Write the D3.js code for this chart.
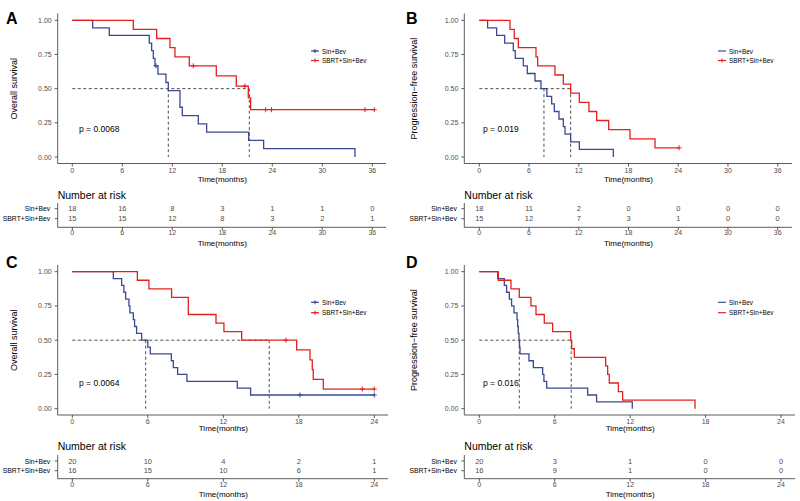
<!DOCTYPE html>
<html>
<head>
<meta charset="utf-8">
<script src="https://cdn.jsdelivr.net/npm/d3@7"></script>
<style>
  body { margin: 0; background: #fff; }
  text { font-family: "Liberation Sans", Arial, sans-serif; }
</style>
</head>
<body>
<div id="chart"></div>
<script>
const svgWidth = 800;
const svgHeight = 501;
const blue = "#3B4992";
const red = "#E3211C";
const axisColor = "#333333";
const tickColor = "#4D4D4D";

const groups = ["Sin+Bev", "SBRT+Sin+Bev"];
const yTicks = [0, 0.25, 0.5, 0.75, 1];
const ticks36 = [0, 6, 12, 18, 24, 30, 36];
const ticks24 = [0, 6, 12, 18, 24];

// Panel A - overall survival, cohort 1
const aSinTimes = [0, 2.44, 4.44, 9.24, 9.52, 9.72, 9.92, 10.28, 11.24, 11.52, 12.92, 13.2, 15.12, 16.12, 21.16, 22.96, 33.92];
const aSinSurv = [1, 0.944, 0.889, 0.833, 0.778, 0.722, 0.667, 0.606, 0.545, 0.485, 0.364, 0.303, 0.242, 0.182, 0.121, 0.061, 0];
const aSinCensor = [[10.04, 0.667]];
const aSbrtTimes = [0, 7.32, 10.12, 11.72, 12.32, 14.04, 17.28, 19.68, 21.12, 21.4];
const aSbrtSurv = [1, 0.933, 0.867, 0.8, 0.733, 0.667, 0.593, 0.519, 0.432, 0.346];
const aSbrtCensor = [[14.52, 0.667], [20.72, 0.519], [23.2, 0.346], [23.9, 0.346], [35.12, 0.346], [36.24, 0.346]];
const aMedians = [11.52, 21.24];
const aRisk = [[18, 16, 8, 3, 1, 1, 0], [15, 15, 12, 8, 3, 2, 1]];

// Panel B - progression-free survival, cohort 1
const bSinTimes = [0, 1.0, 2.09, 3.06, 4.1, 4.34, 5.31, 5.79, 6.72, 7.44, 8.15, 8.73, 9.05, 9.61, 10.14, 10.34, 11.02, 12.07, 16.17];
const bSinSurv = [1, 0.944, 0.889, 0.833, 0.778, 0.722, 0.667, 0.611, 0.556, 0.5, 0.444, 0.389, 0.333, 0.278, 0.222, 0.167, 0.111, 0.056, 0];
const bSinCensor = [];
const bSbrtTimes = [0, 3.7, 4.22, 4.71, 6.84, 7.04, 9.13, 10.14, 11.02, 12.07, 13.23, 14.16, 15.61, 18.18, 21.2];
const bSbrtSurv = [1, 0.933, 0.867, 0.8, 0.733, 0.667, 0.6, 0.533, 0.467, 0.4, 0.333, 0.267, 0.2, 0.133, 0.067];
const bSbrtCensor = [[24.1, 0.067]];
const bMedians = [7.8, 11.02];
const bRisk = [[18, 11, 2, 0, 0, 0, 0], [15, 12, 7, 3, 1, 0, 0]];

// Panel C - overall survival, cohort 2
const cSinTimes = [0, 3.26, 3.92, 4.1, 4.24, 4.5, 4.58, 4.85, 4.95, 5.11, 5.51, 6.0, 6.2, 7.87, 8.03, 8.37, 9.11, 13.11, 14.17];
const cSinSurv = [1, 0.95, 0.9, 0.85, 0.8, 0.75, 0.7, 0.65, 0.6, 0.55, 0.5, 0.45, 0.4, 0.35, 0.3, 0.25, 0.2, 0.15, 0.1];
const cSinCensor = [[18.09, 0.1], [24, 0.1]];
const cSbrtTimes = [0, 5.17, 6.09, 7.89, 9.22, 11.42, 12.05, 13.46, 17.83, 18.89, 19.07, 19.15, 19.95];
const cSbrtSurv = [1, 0.9375, 0.875, 0.8125, 0.6875, 0.625, 0.5625, 0.5, 0.429, 0.357, 0.286, 0.214, 0.143];
const cSbrtCensor = [[16.98, 0.5], [23.05, 0.143], [24, 0.143]];
const cMedians = [5.83, 15.65];
const cRisk = [[20, 10, 4, 2, 1], [16, 15, 10, 6, 1]];

// Panel D - progression-free survival, cohort 2
const dSinTimes = [0, 1.46, 1.99, 2.17, 2.39, 2.57, 2.76, 3.0, 3.05, 3.1, 3.16, 3.2, 3.24, 3.95, 4.3, 5.04, 5.14, 5.36, 8.62, 9.33, 12.17];
const dSinSurv = [1, 0.95, 0.9, 0.85, 0.8, 0.75, 0.7, 0.65, 0.6, 0.55, 0.5, 0.45, 0.4, 0.35, 0.3, 0.25, 0.2, 0.15, 0.1, 0.05, 0];
const dSinCensor = [];
const dSbrtTimes = [0, 1.51, 2.52, 3.18, 4.11, 4.51, 5.17, 5.83, 7.27, 7.35, 7.56, 10.05, 10.21, 10.34, 11.06, 11.4, 17.16];
const dSbrtSurv = [1, 0.9375, 0.875, 0.8125, 0.75, 0.6875, 0.625, 0.5625, 0.5, 0.4375, 0.375, 0.3125, 0.25, 0.1875, 0.125, 0.0625, 0];
const dSbrtCensor = [];
const dMedians = [3.18, 7.31];
const dRisk = [[20, 3, 1, 0, 0], [16, 9, 1, 0, 0]];

const panels = [
  { letter: "A", yTitle: "Overall survival", pText: "p = 0.0068", ticks: ticks36, medians: aMedians, risk: aRisk,
    curves: [
      { times: aSinTimes, surv: aSinSurv, censor: aSinCensor, color: blue },
      { times: aSbrtTimes, surv: aSbrtSurv, censor: aSbrtCensor, color: red }] },
  { letter: "B", yTitle: "Progression\u2212free survival", pText: "p = 0.019", ticks: ticks36, medians: bMedians, risk: bRisk,
    curves: [
      { times: bSinTimes, surv: bSinSurv, censor: bSinCensor, color: blue },
      { times: bSbrtTimes, surv: bSbrtSurv, censor: bSbrtCensor, color: red }] },
  { letter: "C", yTitle: "Overall survival", pText: "p = 0.0064", ticks: ticks24, medians: cMedians, risk: cRisk,
    curves: [
      { times: cSinTimes, surv: cSinSurv, censor: cSinCensor, color: blue },
      { times: cSbrtTimes, surv: cSbrtSurv, censor: cSbrtCensor, color: red }] },
  { letter: "D", yTitle: "Progression\u2212free survival", pText: "p = 0.016", ticks: ticks24, medians: dMedians, risk: dRisk,
    curves: [
      { times: dSinTimes, surv: dSinSurv, censor: dSinCensor, color: blue },
      { times: dSbrtTimes, surv: dSbrtSurv, censor: dSbrtCensor, color: red }] }
];

// pixel layout of each panel (plot + risk table)
const layouts = [
  { ox: 0, axisX: 57.7, xRange: [72.3, 372.3], axisEnd: 386, row: 0 },
  { ox: 400, axisX: 464.3, xRange: [479.3, 777.7], axisEnd: 792, row: 0 },
  { ox: 0, axisX: 57.7, xRange: [72.3, 374.3], axisEnd: 388, row: 1 },
  { ox: 400, axisX: 464.3, xRange: [479.3, 781], axisEnd: 795, row: 1 }
];
const rowLayouts = [
  { letterY: 24, yRange: [157, 20.3], axisTop: 13.5, xAxisY: 163.5, xTickY: 172.5, xTitleY: 181.5,
    legendY: [51, 60.5], pY: 132, nRiskY: 198.5, riskY: [208.7, 218.7], riskTop: 203, riskAxisY: 227.3,
    riskTickY: 235.3, riskTitleY: 245.5 },
  { letterY: 268, yRange: [408.7, 271.7], axisTop: 265, xAxisY: 415, xTickY: 424, xTitleY: 431,
    legendY: [302.3, 312.7], pY: 385.5, nRiskY: 449.5, riskY: [461, 470.7], riskTop: 455, riskAxisY: 478.7,
    riskTickY: 486.7, riskTitleY: 497 }
];

// condensed-looking label (group names use a narrow face in the original)
function narrowText(g, x, y, label, size, anchor = "start") {
  g.append("text")
    .attr("transform", `translate(${x},${y}) scale(0.85,1)`)
    .attr("text-anchor", anchor)
    .style("font-size", `${size}px`)
    .text(label);
}

function drawCross(g, cx, cy, color, size = 2.5) {
  g.append("path")
    .attr("d", `M${cx - size},${cy}H${cx + size}M${cx},${cy - size}V${cy + size}`)
    .attr("stroke", color)
    .attr("stroke-width", 1);
}

function drawPanel(svg, panel, lay) {
  let row = rowLayouts[lay.row];
  let maxT = panel.ticks[panel.ticks.length - 1];
  let x = d3.scaleLinear().domain([0, maxT]).range(lay.xRange);
  let y = d3.scaleLinear().domain([0, 1]).range(row.yRange);
  let g = svg.append("g");

  // Panel letter
  g.append("text")
    .attr("x", lay.ox + 6)
    .attr("y", row.letterY)
    .style("font-size", "16px")
    .style("font-weight", "bold")
    .text(panel.letter);

  // Y axis
  g.append("line")
    .attr("x1", lay.axisX).attr("x2", lay.axisX)
    .attr("y1", row.axisTop).attr("y2", row.xAxisY)
    .attr("stroke", axisColor).attr("stroke-width", 0.8);
  yTicks.forEach(v => {
    g.append("line")
      .attr("x1", lay.axisX - 3).attr("x2", lay.axisX)
      .attr("y1", y(v)).attr("y2", y(v))
      .attr("stroke", axisColor).attr("stroke-width", 0.8);
    g.append("text")
      .attr("x", lay.axisX - 6)
      .attr("y", y(v) + 2.5)
      .attr("text-anchor", "end")
      .attr("fill", tickColor)
      .style("font-size", "7px")
      .text(d3.format(".2f")(v));
  });
  let yMid = (row.yRange[0] + row.yRange[1]) / 2;
  g.append("text")
    .attr("transform", `translate(${lay.ox + 17},${yMid}) rotate(-90)`)
    .attr("text-anchor", "middle")
    .style("font-size", "9px")
    .text(panel.yTitle);

  // X axis
  g.append("line")
    .attr("x1", lay.axisX).attr("x2", lay.axisEnd)
    .attr("y1", row.xAxisY).attr("y2", row.xAxisY)
    .attr("stroke", axisColor).attr("stroke-width", 0.8);
  panel.ticks.forEach(t => {
    g.append("line")
      .attr("x1", x(t)).attr("x2", x(t))
      .attr("y1", row.xAxisY).attr("y2", row.xAxisY + 3)
      .attr("stroke", axisColor).attr("stroke-width", 0.8);
    g.append("text")
      .attr("x", x(t)).attr("y", row.xTickY)
      .attr("text-anchor", "middle")
      .attr("fill", tickColor)
      .style("font-size", "7px")
      .text(t);
  });
  g.append("text")
    .attr("x", (x(0) + x(maxT)) / 2).attr("y", row.xTitleY)
    .attr("text-anchor", "middle")
    .style("font-size", "8px")
    .text("Time(months)");

  // Median dashed lines
  let dash = g.append("g")
    .attr("stroke", "#222")
    .attr("stroke-width", 0.8)
    .attr("stroke-dasharray", "3,2.5")
    .attr("fill", "none");
  dash.append("line")
    .attr("x1", x(0)).attr("x2", x(d3.max(panel.medians)))
    .attr("y1", y(0.5)).attr("y2", y(0.5));
  panel.medians.forEach(m => {
    dash.append("line")
      .attr("x1", x(m)).attr("x2", x(m))
      .attr("y1", y(0.5)).attr("y2", y(0));
  });

  // Survival curves
  let line = d3.line()
    .x(d => x(d[0]))
    .y(d => y(d[1]))
    .curve(d3.curveStepAfter);
  panel.curves.forEach(c => {
    let pts = c.times.map((t, i) => [t, c.surv[i]]);
    let last = c.censor.length ? d3.max(c.censor, d => d[0]) : c.times[c.times.length - 1];
    if (last > pts[pts.length - 1][0]) pts.push([last, c.surv[c.surv.length - 1]]);
    g.append("path")
      .attr("d", line(pts))
      .attr("fill", "none")
      .attr("stroke", c.color)
      .attr("stroke-width", 1.3);
    c.censor.forEach(p => drawCross(g, x(p[0]), y(p[1]), c.color));
  });

  // p-value
  g.append("text")
    .attr("x", lay.ox + (lay.ox ? 83 : 79))
    .attr("y", row.pY)
    .style("font-size", "8.5px")
    .text(panel.pText);

  // Legend
  panel.curves.forEach((c, i) => {
    let lx = lay.ox + (lay.ox ? 318 : 311);
    let ly = row.legendY[i];
    g.append("line")
      .attr("x1", lx).attr("x2", lx + 8)
      .attr("y1", ly).attr("y2", ly)
      .attr("stroke", c.color).attr("stroke-width", 1.2);
    if (c.censor.length) drawCross(g, lx + 4, ly, c.color, 2);
    narrowText(g, lx + 11, ly + 2.6, groups[i], 7.5);
  });

  // Risk table
  g.append("text")
    .attr("x", lay.axisX)
    .attr("y", row.nRiskY)
    .style("font-size", "10.5px")
    .text("Number at risk");
  g.append("line")
    .attr("x1", lay.axisX).attr("x2", lay.axisX)
    .attr("y1", row.riskTop).attr("y2", row.riskAxisY)
    .attr("stroke", axisColor).attr("stroke-width", 0.8);
  g.append("line")
    .attr("x1", lay.axisX).attr("x2", lay.axisEnd)
    .attr("y1", row.riskAxisY).attr("y2", row.riskAxisY)
    .attr("stroke", axisColor).attr("stroke-width", 0.8);
  panel.risk.forEach((vals, i) => {
    let ry = row.riskY[i];
    g.append("line")
      .attr("x1", lay.axisX - 3).attr("x2", lay.axisX)
      .attr("y1", ry).attr("y2", ry)
      .attr("stroke", axisColor).attr("stroke-width", 0.8);
    narrowText(g, lay.axisX - 7.5, ry + 2.7, groups[i], 8, "end");
    vals.forEach((v, j) => {
      g.append("text")
        .attr("x", x(panel.ticks[j])).attr("y", ry + 2.7)
        .attr("text-anchor", "middle")
        .attr("fill", tickColor)
        .style("font-size", "7.5px")
        .text(v);
    });
  });
  panel.ticks.forEach(t => {
    g.append("line")
      .attr("x1", x(t)).attr("x2", x(t))
      .attr("y1", row.riskAxisY).attr("y2", row.riskAxisY + 3)
      .attr("stroke", axisColor).attr("stroke-width", 0.8);
    g.append("text")
      .attr("x", x(t)).attr("y", row.riskTickY)
      .attr("text-anchor", "middle")
      .attr("fill", tickColor)
      .style("font-size", "7px")
      .text(t);
  });
  g.append("text")
    .attr("x", (x(0) + x(maxT)) / 2).attr("y", row.riskTitleY)
    .attr("text-anchor", "middle")
    .style("font-size", "8px")
    .text("Time(months)");
}

let svg = d3.select("#chart").append("svg")
  .attr("width", svgWidth)
  .attr("height", svgHeight);
svg.append("rect").attr("width", svgWidth).attr("height", svgHeight).attr("fill", "#fff");
panels.forEach((p, i) => drawPanel(svg, p, layouts[i]));
</script>
</body>
</html>
